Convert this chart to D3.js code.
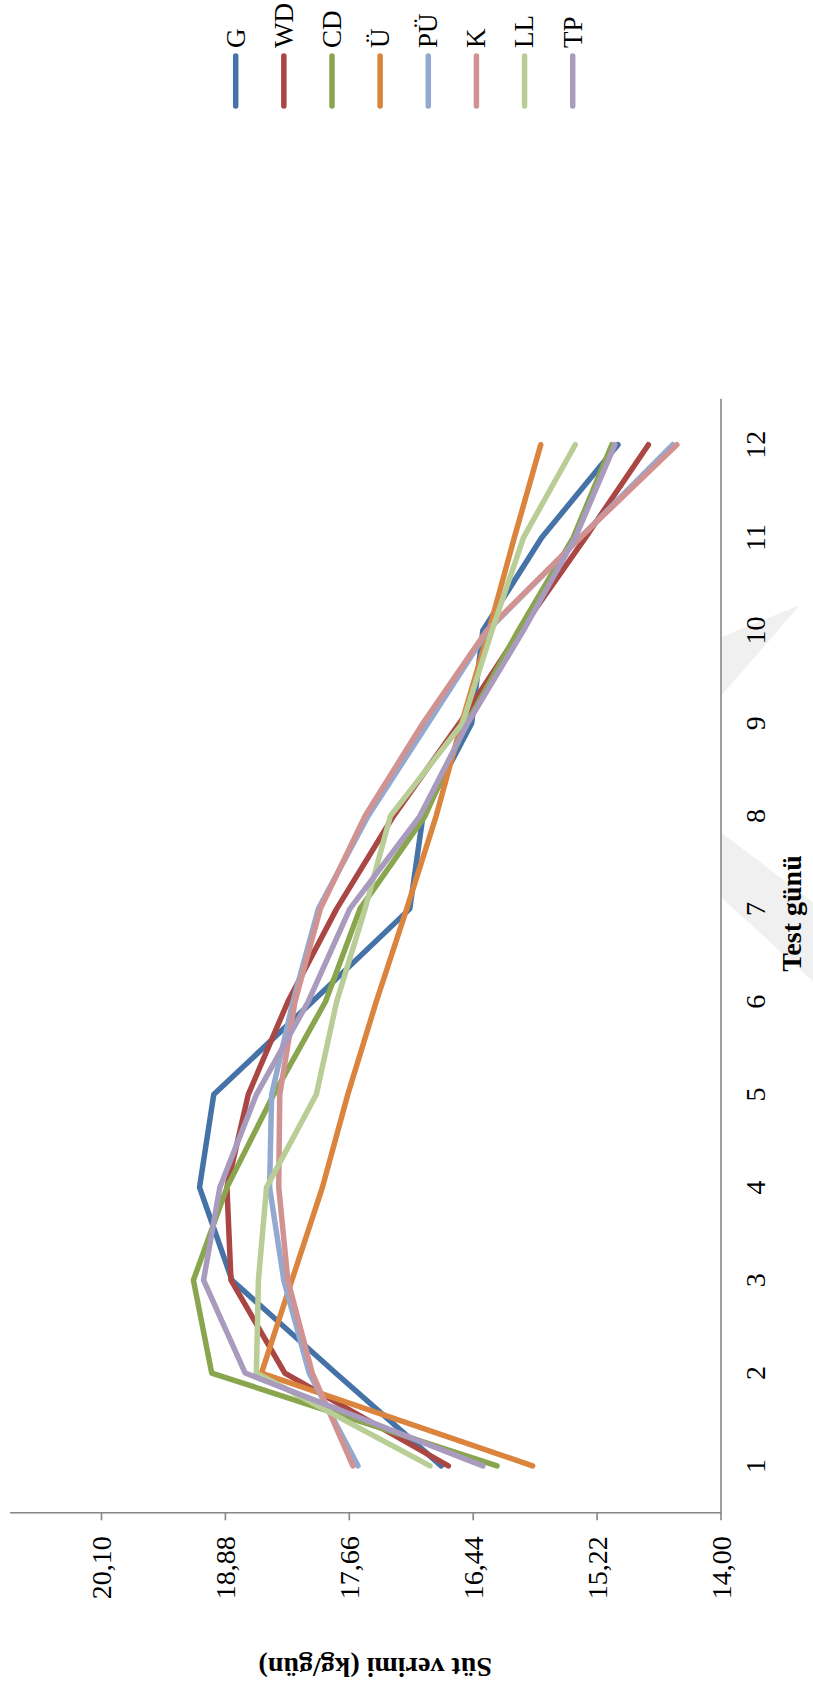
<!DOCTYPE html>
<html><head><meta charset="utf-8">
<script src="https://cdn.jsdelivr.net/npm/d3@7"></script>
<style>html,body{margin:0;padding:0;background:#fff;} svg{display:block;}</style>
</head><body><svg id="c" width="813" height="1698"></svg>
<script>
const categories = ["1","2","3","4","5","6","7","8","9","10","11","12"];
const seriesNames = ["G","WD","CD","Ü","PÜ","K","LL","TP"];
const seriesColors = ["#4572A7","#AA4643","#89A54E","#DB843D","#93A9CF","#D19392","#B9CD96","#A99BBD"];
const G  = [16.75, 17.79, 18.81, 19.13, 18.99, 18.02, 17.06, 16.93, 16.45, 16.34, 15.76, 15.01];
const WD = [16.68, 18.29, 18.82, 18.86, 18.65, 18.26, 17.78, 17.22, 16.57, 15.97, 15.33, 14.71];
const CD = [16.20, 19.01, 19.19, 18.86, 18.40, 17.89, 17.55, 16.91, 16.50, 15.99, 15.45, 15.07];
const U  = [15.85, 18.52, 18.22, 17.92, 17.67, 17.39, 17.09, 16.80, 16.55, 16.28, 16.03, 15.77];
const PU = [17.57, 18.05, 18.30, 18.44, 18.42, 18.21, 17.96, 17.47, 16.88, 16.29, 15.38, 14.47];
const K  = [17.62, 18.02, 18.26, 18.35, 18.34, 18.19, 17.94, 17.50, 16.93, 16.30, 15.38, 14.43];
const LL = [16.86, 18.57, 18.55, 18.47, 17.98, 17.78, 17.50, 17.25, 16.54, 16.25, 15.94, 15.43];
const TP = [16.34, 18.68, 19.09, 18.93, 18.57, 18.06, 17.65, 16.96, 16.49, 15.94, 15.43, 15.04];
const seriesValues = [G, WD, CD, U, PU, K, LL, TP];
const valueTicks = [14.00, 15.22, 16.44, 17.66, 18.88, 20.10];
const valueTickLabels = ["14,00","15,22","16,44","17,66","18,88","20,10"];
const valueDomain = [14, 21];
const xTitle = "Test günü";
const yTitle = "Süt verimi (kg/gün)";

const svg = d3.select("#c");
const FONT = "'Liberation Serif','Times New Roman',serif";
const AXIS = "#868686";

// value axis runs horizontally (rotated chart), category axis vertically
const x = d3.scaleLinear().domain(valueDomain).range([720.5, 9.6]);
const y = d3.scaleBand().domain(categories).range([1512.3, 398.3]).paddingInner(0).paddingOuter(0);
const yc = c => y(c) + y.bandwidth() / 2;
const catPos = c => yc("1") - (c - 1) * y.step();

svg.append("rect").attr("width", 813).attr("height", 1698).attr("fill", "#fff");

// faint watermark outside plot
const wm = svg.append("g").attr("fill", "#f0f0f0");
const poly = pts => pts.map(p => [x(p[0]), catPos(p[1])].join(",")).join(" ");
wm.append("polygon").attr("points", poly([[13.99, 7.82],[13.09, 7.07],[13.09, 6.22],[13.99, 7.12]]));
wm.append("polygon").attr("points", poly([[13.99, 9.93],[13.22, 10.27],[13.99, 9.3]]));

// value axis
const gx = svg.append("g").attr("transform", "translate(0,1512.3)")
  .call(d3.axisBottom(x).tickValues(valueTicks).tickSize(8).tickSizeOuter(0)
    .tickFormat((d, i) => valueTickLabels[i]));
gx.select(".domain").attr("stroke", AXIS).attr("stroke-width", 1.6);
gx.selectAll(".tick line").attr("stroke", AXIS).attr("stroke-width", 1.6);
gx.selectAll(".tick text")
  .attr("y", null).attr("dy", "0.34em")
  .attr("transform", "translate(0,24) rotate(-90)")
  .attr("text-anchor", "end")
  .attr("font-family", FONT).attr("font-size", 28).attr("fill", "#000");

// category axis
const gy = svg.append("g").attr("transform", "translate(720.5,0)")
  .call(d3.axisRight(y).tickSize(0).tickSizeOuter(0));
gy.select(".domain").attr("stroke", AXIS).attr("stroke-width", 1.6);
gy.selectAll(".tick text")
  .attr("x", null).attr("dy", "0.34em")
  .attr("transform", "translate(35,0) rotate(-90)")
  .attr("text-anchor", "middle")
  .attr("font-family", FONT).attr("font-size", 28).attr("fill", "#000");

// titles
svg.append("text").text(xTitle)
  .attr("transform", `translate(791,${catPos(6.95)}) rotate(-90)`)
  .attr("dy", "0.35em").attr("text-anchor", "middle")
  .attr("font-family", FONT).attr("font-weight", "bold").attr("font-size", 28);
svg.append("text").text(yTitle)
  .attr("transform", `translate(${x(17.4)},1666) rotate(180)`)
  .attr("dy", "0.28em").attr("text-anchor", "middle")
  .attr("font-family", FONT).attr("font-weight", "bold").attr("font-size", 28);

// lines
const line = d3.line().x(d => x(d.v)).y(d => yc(d.c));
seriesValues.forEach((vals, i) => {
  svg.append("path")
    .datum(vals.map((v, j) => ({c: categories[j], v})))
    .attr("d", line)
    .attr("fill", "none")
    .attr("stroke", seriesColors[i])
    .attr("stroke-width", 5.5)
    .attr("stroke-linecap", "round")
    .attr("stroke-linejoin", "round");
});

// legend
const lg = d3.scalePoint().domain(seriesNames).range([235.7, 572.7]);
const leg = svg.append("g");
seriesNames.forEach((n, i) => {
  leg.append("line").attr("x1", lg(n)).attr("x2", lg(n)).attr("y1", 56).attr("y2", 106)
    .attr("stroke", seriesColors[i]).attr("stroke-width", 5.5).attr("stroke-linecap", "round");
  leg.append("text").text(n)
    .attr("transform", `translate(${lg(n)},48) rotate(-90)`)
    .attr("dy", "0.33em").attr("text-anchor", "start")
    .attr("font-family", FONT).attr("font-size", 27).attr("fill", "#000");
});
</script></body></html>
